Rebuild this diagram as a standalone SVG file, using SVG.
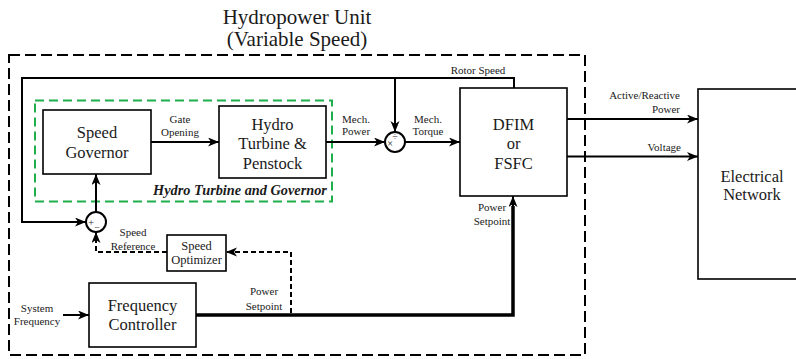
<svg xmlns="http://www.w3.org/2000/svg" width="796" height="359" viewBox="0 0 796 359" font-family="Liberation Serif">
<defs>
<marker id="arr" markerUnits="userSpaceOnUse" markerWidth="12" markerHeight="10" refX="11" refY="4.5" orient="auto">
<path d="M0,0 L11,4.5 L0,9 L3,4.5 z" fill="#000"/>
</marker>
</defs>
<style>
text{fill:#1a1a1a}
.big{font-size:16.5px;text-anchor:middle}
.mid{font-size:12.5px;text-anchor:middle}
.sm{font-size:11px;text-anchor:middle}
.box{fill:#fff;stroke:#000;stroke-width:1.6}
.ln{fill:none;stroke:#000;stroke-width:2}
.thick{fill:none;stroke:#000;stroke-width:3.5}
.dash{fill:none;stroke:#000;stroke-width:2;stroke-dasharray:5 3}
.sym{font-size:10px;text-anchor:middle}
</style>
<rect width="796" height="359" fill="#fff"/>
<text font-family="Liberation Serif" x="297" y="24" font-size="21" text-anchor="middle">Hydropower Unit</text>
<text font-family="Liberation Serif" x="297" y="46" font-size="21" text-anchor="middle">(Variable Speed)</text>
<rect id="unit" x="9" y="55" width="576" height="300" fill="none" stroke="#000" stroke-width="2" stroke-dasharray="11 5"/>
<g id="turbine-governor-group">
<rect x="35" y="100.5" width="297" height="101" fill="none" stroke="#1fae4b" stroke-width="2" stroke-dasharray="9 5"/>
<text font-family="Liberation Serif" x="240" y="195" font-size="14.3" font-weight="bold" font-style="italic" text-anchor="middle">Hydro Turbine and Governor</text>
</g>
<g id="connectors">
<path class="ln" d="M151,142 H219" marker-end="url(#arr)"/>
<path class="ln" d="M326,142 H385" marker-end="url(#arr)"/>
<path class="ln" d="M405,142 H460" marker-end="url(#arr)"/>
<path class="ln" d="M514,88 V78 H22 V222 H86" marker-end="url(#arr)"/>
<path class="ln" d="M395,78 V132" marker-end="url(#arr)"/>
<path class="ln" d="M96,212 V174" marker-end="url(#arr)"/>
<path class="ln" d="M567,119 H698" marker-end="url(#arr)"/>
<path class="ln" d="M567,156.5 H698" marker-end="url(#arr)"/>
<path class="ln" d="M63,315 H89" marker-end="url(#arr)"/>
<path class="thick" d="M196,315 H513 V206"/>
<path class="ln" d="M513,207 V196" marker-end="url(#arr)"/>
<path class="dash" d="M291,313 V252 H226" marker-end="url(#arr)"/>
<path class="dash" d="M167,252 H96 V232" marker-end="url(#arr)"/>
<text font-family="Liberation Serif" class="sm" x="180" y="123">Gate</text>
<text font-family="Liberation Serif" class="sm" x="180" y="136">Opening</text>
<text font-family="Liberation Serif" class="sm" x="356" y="123">Mech.</text>
<text font-family="Liberation Serif" class="sm" x="356" y="135">Power</text>
<text font-family="Liberation Serif" class="sm" x="428" y="123">Mech.</text>
<text font-family="Liberation Serif" class="sm" x="428" y="135">Torque</text>
<text font-family="Liberation Serif" class="sm" x="478" y="74">Rotor Speed</text>
<text font-family="Liberation Serif" class="sm" x="680" y="99" style="text-anchor:end">Active/Reactive</text>
<text font-family="Liberation Serif" class="sm" x="680" y="113" style="text-anchor:end">Power</text>
<text font-family="Liberation Serif" class="sm" x="681" y="151" style="text-anchor:end">Voltage</text>
<text font-family="Liberation Serif" class="sm" x="133" y="236">Speed</text>
<text font-family="Liberation Serif" class="sm" x="133" y="249.5">Reference</text>
<text font-family="Liberation Serif" class="sm" x="37" y="312">System</text>
<text font-family="Liberation Serif" class="sm" x="37" y="324.5">Frequency</text>
<text font-family="Liberation Serif" class="sm" x="264" y="295">Power</text>
<text font-family="Liberation Serif" class="sm" x="264" y="309.5">Setpoint</text>
<text font-family="Liberation Serif" class="sm" x="492" y="211">Power</text>
<text font-family="Liberation Serif" class="sm" x="492" y="224.5">Setpoint</text>
</g>
<g id="speed-governor">
<rect class="box" x="43" y="110" width="108" height="64"/>
<text font-family="Liberation Serif" class="big" x="97" y="137.5">Speed</text>
<text font-family="Liberation Serif" class="big" x="97" y="157.5">Governor</text>
</g>
<g id="hydro-turbine">
<rect class="box" x="219" y="106" width="107" height="72"/>
<text font-family="Liberation Serif" class="big" x="272.5" y="129.5">Hydro</text>
<text font-family="Liberation Serif" class="big" x="272.5" y="149">Turbine &amp;</text>
<text font-family="Liberation Serif" class="big" x="272.5" y="168.5">Penstock</text>
</g>
<g id="divider">
<circle cx="395" cy="142" r="10" fill="#fff" stroke="#000" stroke-width="2"/>
<text font-family="Liberation Serif" class="sym" x="390" y="147">×</text>
<text font-family="Liberation Serif" class="sym" x="395" y="140">÷</text>
</g>
<g id="summing">
<circle cx="96" cy="222" r="10" fill="#fff" stroke="#000" stroke-width="2"/>
<text font-family="Liberation Serif" class="sym" x="91" y="226">+</text>
<text font-family="Liberation Serif" class="sym" x="97" y="231">−</text>
</g>
<g id="dfim">
<rect class="box" x="460" y="88" width="107" height="108"/>
<text font-family="Liberation Serif" class="big" x="513.5" y="129.5">DFIM</text>
<text font-family="Liberation Serif" class="big" x="513.5" y="148.5">or</text>
<text font-family="Liberation Serif" class="big" x="513.5" y="168.5">FSFC</text>
</g>
<g id="electrical-network">
<rect class="box" x="698" y="89" width="110" height="190"/>
<text font-family="Liberation Serif" class="big" x="752" y="182">Electrical</text>
<text font-family="Liberation Serif" class="big" x="752" y="200">Network</text>
</g>
<g id="speed-optimizer">
<rect class="box" x="167" y="235" width="59" height="36"/>
<text font-family="Liberation Serif" class="mid" x="196.5" y="249.5">Speed</text>
<text font-family="Liberation Serif" class="mid" x="196.5" y="264">Optimizer</text>
</g>
<g id="frequency-controller">
<rect class="box" x="89" y="283" width="107" height="64"/>
<text font-family="Liberation Serif" class="big" x="142.5" y="311">Frequency</text>
<text font-family="Liberation Serif" class="big" x="142.5" y="330">Controller</text>
</g>
</svg>
